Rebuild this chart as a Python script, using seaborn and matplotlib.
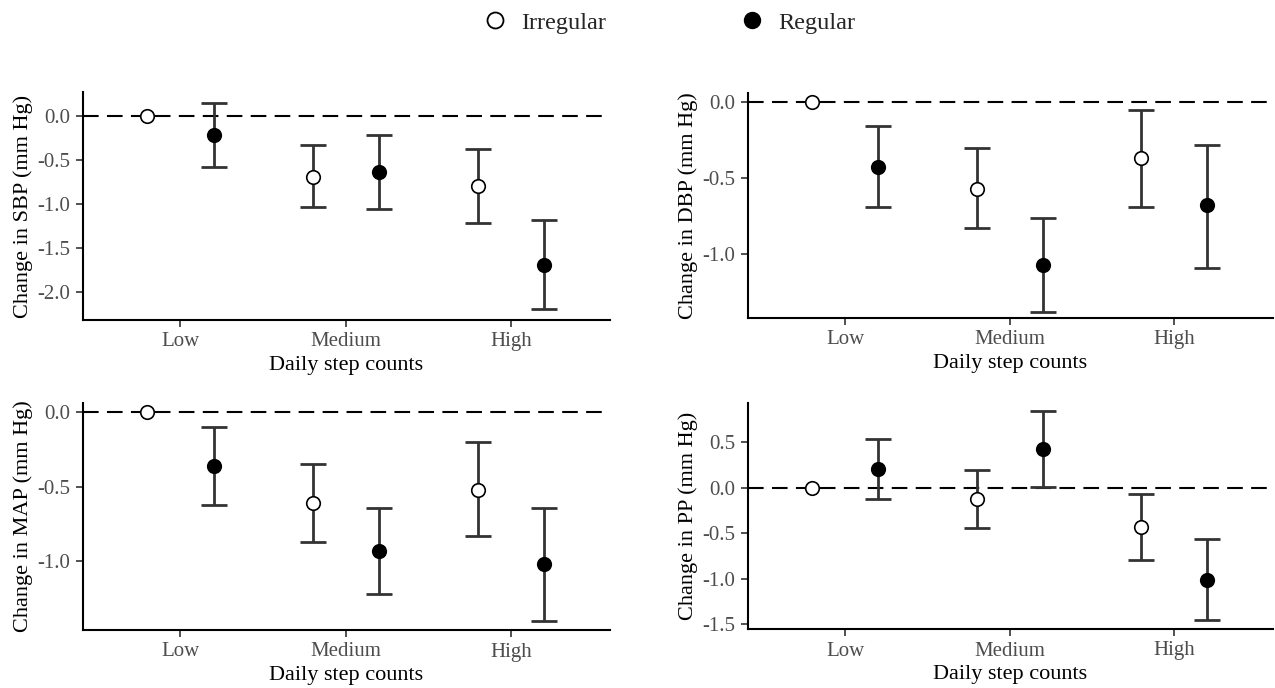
import numpy as np
import pandas as pd
import matplotlib
matplotlib.use("Agg")
import matplotlib.pyplot as plt
from matplotlib.lines import Line2D
import seaborn as sns

sns.set_style("ticks")
plt.rcParams['font.family'] = ['Liberation Serif', 'DejaVu Serif']

steps = ["Low", "Medium", "High"]
groups = ["Irregular", "Regular"]

# estimates and 95% CI per outcome, order: Low, Medium, High
sbp_irr = [0.0, -0.69, -0.80]
sbp_irr_lo = [np.nan, -1.04, -1.22]
sbp_irr_hi = [np.nan, -0.33, -0.38]
sbp_reg = [-0.22, -0.64, -1.69]
sbp_reg_lo = [-0.58, -1.06, -2.20]
sbp_reg_hi = [0.15, -0.22, -1.18]

dbp_irr = [0.0, -0.57, -0.37]
dbp_irr_lo = [np.nan, -0.83, -0.69]
dbp_irr_hi = [np.nan, -0.30, -0.05]
dbp_reg = [-0.43, -1.07, -0.68]
dbp_reg_lo = [-0.69, -1.38, -1.09]
dbp_reg_hi = [-0.16, -0.76, -0.28]

map_irr = [0.0, -0.61, -0.52]
map_irr_lo = [np.nan, -0.87, -0.83]
map_irr_hi = [np.nan, -0.35, -0.20]
map_reg = [-0.36, -0.93, -1.02]
map_reg_lo = [-0.62, -1.22, -1.40]
map_reg_hi = [-0.10, -0.64, -0.64]

pp_irr = [0.0, -0.12, -0.43]
pp_irr_lo = [np.nan, -0.44, -0.79]
pp_irr_hi = [np.nan, 0.19, -0.07]
pp_reg = [0.21, 0.42, -1.01]
pp_reg_lo = [-0.12, 0.01, -1.45]
pp_reg_hi = [0.54, 0.84, -0.56]

panels = [
    ("SBP", sbp_irr, sbp_irr_lo, sbp_irr_hi, sbp_reg, sbp_reg_lo, sbp_reg_hi,
     (-2.32, 0.27), [0.0, -0.5, -1.0, -1.5, -2.0]),
    ("DBP", dbp_irr, dbp_irr_lo, dbp_irr_hi, dbp_reg, dbp_reg_lo, dbp_reg_hi,
     (-1.42, 0.06), [0.0, -0.5, -1.0]),
    ("MAP", map_irr, map_irr_lo, map_irr_hi, map_reg, map_reg_lo, map_reg_hi,
     (-1.46, 0.06), [0.0, -0.5, -1.0]),
    ("PP", pp_irr, pp_irr_lo, pp_irr_hi, pp_reg, pp_reg_lo, pp_reg_hi,
     (-1.55, 0.93), [0.5, 0.0, -0.5, -1.0, -1.5]),
]

W, H = 1275, 688
fig = plt.figure(figsize=(12.75, 6.88), dpi=100)
boxes = [(83, 92, 610, 320), (748, 93, 1273, 318),
         (83, 403, 610, 630), (748, 403, 1273, 629)]

offset = 0.2
ebar_color = "#333333"

for (name, ie, il, ih, re_, rl, rh, ylim, yticks), (x0, y0, x1, y1) in zip(panels, boxes):
    ax = fig.add_axes([x0 / W, 1 - y1 / H, (x1 - x0) / W, (y1 - y0) / H])
    ax.axhline(0, color="black", lw=1.5, ls=(0, (7.5, 4)), zorder=1)
    base = np.arange(len(steps))
    for est, lo, hi, sign, face in [(ie, il, ih, -1, "white"), (re_, rl, rh, 1, "black")]:
        est = np.array(est)
        lo = np.array(lo)
        hi = np.array(hi)
        xs = base + sign * offset
        ok = ~np.isnan(lo)
        ax.errorbar(xs[ok], est[ok], yerr=[est[ok] - lo[ok], hi[ok] - est[ok]],
                    fmt="none", ecolor=ebar_color, elinewidth=2, capsize=9.5,
                    capthick=2, zorder=2)
        df = pd.DataFrame({"x": xs, "y": est})
        sns.scatterplot(data=df, x="x", y="y", color=face, edgecolor="black",
                        s=95, linewidth=1.2, zorder=3, ax=ax, legend=False)
    ax.set_xlim(-0.59, 2.6)
    ax.set_ylim(*ylim)
    ax.set_xticks(base)
    ax.set_xticklabels(steps)
    ax.set_yticks(yticks)
    ax.set_yticklabels([f"{t:.1f}" for t in yticks])
    ax.set_xlabel("Daily step counts", fontsize=16, color="black", labelpad=3)
    ax.set_ylabel(f"Change in {name} (mm Hg)", fontsize=16, color="black", labelpad=3)
    ax.tick_params(axis="both", labelsize=15, labelcolor="#4d4d4d", color="#333333",
                   length=5, width=1.2, pad=4)
    for s in ["top", "right"]:
        ax.spines[s].set_visible(False)
    for s in ["left", "bottom"]:
        ax.spines[s].set_linewidth(1.5)
        ax.spines[s].set_color("black")

handles = [
    Line2D([], [], ls="none", marker="o", markersize=11.5, markerfacecolor="white",
           markeredgecolor="black", markeredgewidth=1.3),
    Line2D([], [], ls="none", marker="o", markersize=11.5, markerfacecolor="black",
           markeredgecolor="black"),
]
fig.legend(handles, groups, loc="upper center", bbox_to_anchor=(0.52, 1.015), ncol=2,
           frameon=False, fontsize=17.5, columnspacing=5.0, handletextpad=0.1,
           handlelength=2.0)

fig.savefig("out.png", dpi=100)
